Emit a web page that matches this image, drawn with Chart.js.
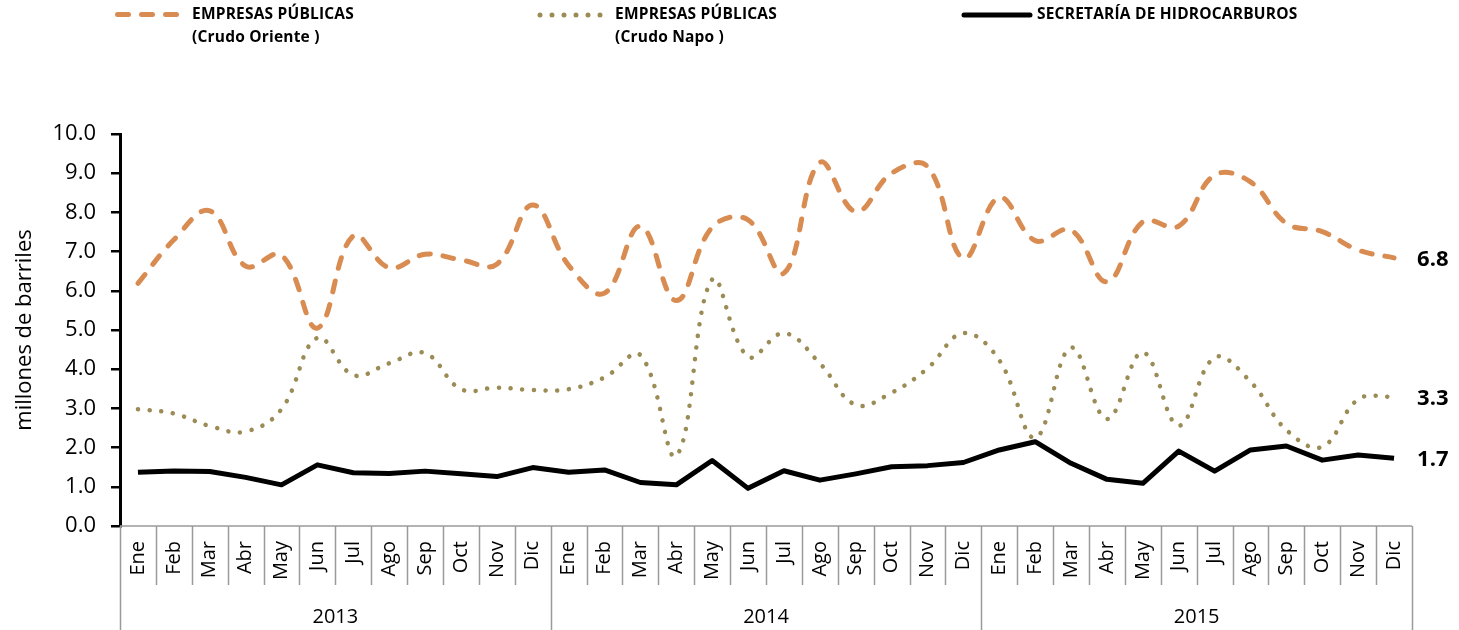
<!DOCTYPE html>
<html>
<head>
<meta charset="utf-8">
<script src="https://cdn.jsdelivr.net/npm/chart.js@4.4.0/dist/chart.umd.min.js"></script>
<style>
  body { margin: 0; background: #fff; }
  #wrap { position: relative; width: 1459px; height: 630px; overflow: hidden; }
  #chart { position: absolute; left: 0; top: 0; }
  .leg { position: absolute; font-family: "Open Sans", sans-serif; font-weight: bold;
         font-size: 15.5px; line-height: 23px; letter-spacing: 0.2px; color: #000; white-space: nowrap; }
  #legLines { position: absolute; left: 0; top: 0; }
</style>
</head>
<body>
<div id="wrap">
  <canvas id="chart" width="1459" height="630"></canvas>
  <svg id="legLines" width="1459" height="40">
    <line x1="117.5" y1="14.5" x2="178" y2="14.5" stroke="#D98C52" stroke-width="5"
          stroke-linecap="round" stroke-dasharray="11 13"/>
    <line x1="540" y1="15" x2="601" y2="15" stroke="#9B8B55" stroke-width="5"
          stroke-linecap="round" stroke-dasharray="0 12"/>
    <line x1="964" y1="15" x2="1030" y2="15" stroke="#000" stroke-width="5"
          stroke-linecap="round"/>
  </svg>
  <div class="leg" style="left:192px; top:2px;">EMPRESAS PÚBLICAS<br>(Crudo Oriente )</div>
  <div class="leg" style="left:615px; top:2px;">EMPRESAS PÚBLICAS<br>(Crudo Napo )</div>
  <div class="leg" style="left:1037px; top:2px;">SECRETARÍA DE HIDROCARBUROS</div>
</div>
<script>
const months = ['Ene', 'Feb', 'Mar', 'Abr', 'May', 'Jun', 'Jul', 'Ago', 'Sep', 'Oct', 'Nov', 'Dic'];
const years = ['2013', '2014', '2015'];
const yTicks = [0, 1, 2, 3, 4, 5, 6, 7, 8, 9, 10];

// millones de barriles
const crudoOriente = [6.19, 7.30, 8.04, 6.63, 6.91, 5.05, 7.40, 6.59, 6.93, 6.79, 6.68, 8.19,
                      6.65, 5.94, 7.65, 5.75, 7.62, 7.81, 6.45, 9.27, 8.02, 9.00, 9.17, 6.83,
                      8.38, 7.28, 7.55, 6.23, 7.76, 7.65, 8.95, 8.78, 7.72, 7.51, 7.04, 6.84];
const crudoNapo = [2.98, 2.87, 2.55, 2.41, 2.98, 4.80, 3.85, 4.15, 4.41, 3.49, 3.53, 3.47,
                   3.49, 3.79, 4.36, 1.79, 6.29, 4.32, 4.92, 4.15, 3.09, 3.40, 4.02, 4.92,
                   4.23, 2.25, 4.55, 2.73, 4.43, 2.56, 4.30, 3.68, 2.45, 2.02, 3.23, 3.30];
const secretaria = [1.37, 1.40, 1.39, 1.24, 1.05, 1.56, 1.36, 1.34, 1.40, 1.33, 1.26, 1.49,
                    1.37, 1.43, 1.11, 1.05, 1.67, 0.96, 1.41, 1.17, 1.33, 1.51, 1.54, 1.62,
                    1.94, 2.15, 1.60, 1.19, 1.09, 1.91, 1.40, 1.94, 2.04, 1.68, 1.81, 1.73];

const labels = [];
years.forEach(y => months.forEach(m => labels.push(m + ' ' + y)));

const FONT = '"Open Sans", sans-serif';
const GRAY = '#9a9a9a';

// month / year category axis drawn below the plot
const categoryAxis = {
  id: 'categoryAxis',
  afterDraw(chart) {
    const ctx = chart.ctx;
    const area = chart.chartArea;
    const x = chart.scales.x;
    const n = labels.length;
    const w = (area.right - area.left) / n;
    ctx.save();
    ctx.strokeStyle = GRAY;
    ctx.lineWidth = 1.5;
    ctx.beginPath();
    ctx.moveTo(area.left, area.bottom);
    ctx.lineTo(area.right, area.bottom);
    for (let i = 0; i <= n; i++) {
      const px = Math.round(area.left + i * w) + 0.5;
      ctx.moveTo(px, area.bottom);
      ctx.lineTo(px, i % 12 === 0 ? chart.height : area.bottom + 59);
    }
    ctx.stroke();

    ctx.fillStyle = '#000';
    ctx.font = '20px ' + FONT;
    ctx.textBaseline = 'middle';
    ctx.textAlign = 'right';
    for (let i = 0; i < n; i++) {
      const cx = x.getPixelForValue(i);
      ctx.save();
      ctx.translate(cx, area.bottom + 15);
      ctx.rotate(-Math.PI / 2);
      ctx.fillText(months[i % 12], 0, 0);
      ctx.restore();
    }
    ctx.textAlign = 'center';
    years.forEach((yr, k) => {
      const cx = area.left + (k * 12 + 6) * w;
      ctx.fillText(yr, cx, area.bottom + 91);
    });
    ctx.restore();
  }
};

// value of the last month at the right end of each line
const endLabels = {
  id: 'endLabels',
  afterDatasetsDraw(chart) {
    const ctx = chart.ctx;
    ctx.save();
    ctx.fillStyle = '#000';
    ctx.font = 'bold 22px ' + FONT;
    ctx.textAlign = 'left';
    ctx.textBaseline = 'middle';
    chart.data.datasets.forEach((ds, i) => {
      const meta = chart.getDatasetMeta(i);
      const pt = meta.data[meta.data.length - 1];
      ctx.fillText(ds.data[ds.data.length - 1].toFixed(1), pt.x + 23, pt.y + 2);
    });
    ctx.restore();
  }
};

new Chart(document.getElementById('chart'), {
  type: 'line',
  data: {
    labels: labels,
    datasets: [
      {
        label: 'EMPRESAS PÚBLICAS (Crudo Oriente )',
        data: crudoOriente,
        borderColor: '#D98C52',
        borderWidth: 5,
        borderDash: [11, 13],
        borderCapStyle: 'round',
        tension: 0.4,
        pointRadius: 0
      },
      {
        label: 'EMPRESAS PÚBLICAS (Crudo Napo )',
        data: crudoNapo,
        borderColor: '#9B8B55',
        borderWidth: 4.5,
        borderDash: [0.1, 11.6],
        borderCapStyle: 'round',
        tension: 0.4,
        pointRadius: 0
      },
      {
        label: 'SECRETARÍA DE HIDROCARBUROS',
        data: secretaria,
        borderColor: '#000',
        borderWidth: 5,
        borderJoinStyle: 'round',
        tension: 0,
        pointRadius: 0
      }
    ]
  },
  options: {
    responsive: false,
    animation: false,
    layout: { padding: { top: 134, right: 47, left: 0, bottom: 0 } },
    plugins: { legend: { display: false }, tooltip: { enabled: false } },
    scales: {
      x: {
        offset: true,
        grid: { display: false },
        border: { display: false },
        ticks: { display: false },
        afterFit(scale) { scale.height = 104; }
      },
      y: {
        min: 0,
        max: 10,
        afterBuildTicks(scale) { scale.ticks = yTicks.map(v => ({ value: v })); },
        ticks: {
          color: '#000',
          font: { family: FONT, size: 22 },
          padding: 15,
          callback: v => v.toFixed(1)
        },
        grid: { drawOnChartArea: false, color: '#000', lineWidth: 2.5, tickLength: 9 },
        border: { color: '#000', width: 3 },
        title: {
          display: true,
          text: 'millones de barriles',
          color: '#000',
          font: { family: FONT, size: 22 },
          padding: { top: 12, bottom: 0 }
        },
        afterFit(scale) { scale.width = 120; }
      }
    }
  },
  plugins: [categoryAxis, endLabels]
});
</script>
</body>
</html>
